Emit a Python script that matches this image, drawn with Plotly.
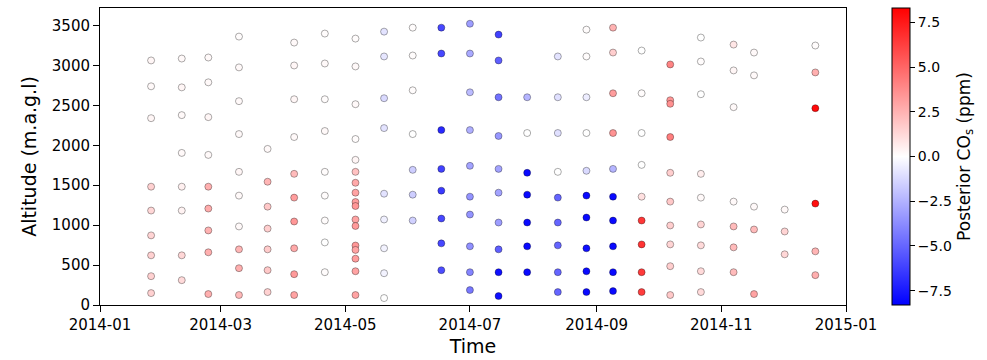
import datetime as dt
import plotly.graph_objects as go

# Sounding dates and, per flight, the sampled altitudes (m a.g.l.) and posterior CO_s (ppm)
flight_dates = [
    "2014-01-26", "2014-02-10", "2014-02-23", "2014-03-10", "2014-03-24", "2014-04-06",
    "2014-04-21", "2014-05-06", "2014-05-20", "2014-06-03", "2014-06-17", "2014-07-01",
    "2014-07-15", "2014-07-29", "2014-08-13", "2014-08-27", "2014-09-09", "2014-09-23",
    "2014-10-07", "2014-10-22", "2014-11-07", "2014-11-17", "2014-12-02", "2014-12-17",
]

altitudes = [
    [3063, 2739, 2340, 1482, 1183, 872, 622, 361, 149],
    [3087, 2726, 2378, 1905, 1482, 1183, 622, 311],
    [3100, 2789, 2353, 1880, 1482, 1208, 934, 660, 137],
    [3362, 2976, 2553, 2141, 1668, 1370, 984, 697, 461, 125],
    [1955, 1544, 1232, 957, 697, 436, 162],
    [3287, 3000, 2577, 2104, 1643, 1345, 1046, 710, 386, 125],
    [3400, 3025, 2577, 2179, 1668, 1370, 1058, 784, 411],
    [3337, 2988, 2515, 2079, 1818, 1668, 1531, 1407, 1290, 1240, 1071, 990, 745, 690, 580, 423, 125],
    [3424, 3113, 2590, 2216, 1394, 1071, 710, 398, 87],
    [3474, 3125, 2689, 2141, 1693, 1382, 1058],
    [3474, 3150, 2191, 1705, 1432, 1083, 772, 436],
    [3523, 3150, 2664, 2191, 1743, 1357, 1133, 735, 411, 187],
    [3387, 3063, 2602, 2117, 1705, 1407, 1033, 697, 411, 112],
    [2602, 2154, 1656, 1382, 1033, 735, 411],
    [3113, 2602, 2154, 1668, 1345, 1033, 747, 411, 162],
    [3449, 3113, 2602, 2154, 1681, 1370, 1096, 710, 423, 162],
    [3474, 3162, 2652, 2154, 1705, 1357, 1058, 735, 411, 174],
    [3187, 2652, 2154, 1755, 1357, 1058, 759, 411, 162],
    [3013, 2565, 2520, 2104, 1656, 1295, 996, 759, 486, 125],
    [3350, 3050, 2640, 1643, 1345, 1009, 747, 423, 162],
    [3262, 2938, 2478, 1295, 984, 722, 411],
    [3162, 2876, 1232, 946, 137],
    [1195, 921, 635],
    [3250, 2913, 2465, 1270, 672, 374],
]

co_values = [
    [0.3, 0.2, 0.3, 1.5, 1.3, 1.4, 1.5, 1.5, 1.5],
    [0.2, 0.3, 0.2, 0.2, 0.5, 0.4, 1.3, 1.2],
    [0.2, 0.2, 0.3, 0.2, 2.6, 2.7, 2.5, 2.6, 2.6],
    [0.1, 0.2, 0.2, 0.2, 0.3, 0.2, 0.2, 2.4, 2.6, 2.3],
    [0.2, 2.4, 1.8, 1.6, 1.7, 1.8, 1.5],
    [0.2, 0.3, 0.3, 0.2, 2.2, 3.2, 3.4, 2.8, 3.3, 3.0],
    [0.1, 0.2, 0.1, 0.2, 0.1, 0.1, 0.1, 0.0, 0.1],
    [0.1, 0.2, 0.2, 0.1, 0.3, 2.0, 2.8, 3.0, 3.2, 3.4, 3.0, 3.3, 3.4, 3.0, 3.2, 3.0, 3.0],
    [-0.9, -0.8, -1.2, -0.9, -0.9, -0.5, -0.4, -0.4, 0.0],
    [0.1, 0.1, 0.1, 0.0, -1.6, -1.6, -1.5],
    [-6.0, -6.0, -7.0, -6.2, -6.4, -6.0, -6.0, -5.8],
    [-3.2, -2.8, -2.2, -2.6, -3.0, -3.5, -3.5, -3.6, -4.0, -4.4],
    [-6.2, -5.2, -4.6, -3.4, -3.0, -3.0, -3.2, -5.2, -7.8, -7.8],
    [-2.4, 0.0, -8.0, -8.0, -8.0, -8.0, -8.0],
    [-0.9, -1.0, -1.0, 0.0, -5.0, -5.0, -5.0, -5.0, -5.0],
    [0.1, 0.1, -0.6, 0.0, -1.2, -8.0, -8.0, -7.8, -8.0, -8.0],
    [2.5, 1.6, 3.2, 3.5, -2.4, -8.0, -8.0, -8.0, -8.0, -8.0],
    [0.0, 0.1, 0.0, 0.0, 1.0, 6.5, 6.6, 6.4, 6.3],
    [4.0, 3.4, 3.6, 4.2, 1.6, 1.8, 1.6, 1.4, 1.6, 1.8],
    [0.0, 0.1, 0.0, 0.6, 0.2, 1.4, 1.2, 1.2, 1.2],
    [0.8, 0.3, 0.2, 0.2, 2.2, 2.2, 2.2],
    [0.2, 0.2, 0.2, 2.2, 3.0],
    [0.2, 1.4, 1.3],
    [0.1, 2.6, 8.0, 7.8, 2.4, 2.6],
]

x_tick_dates = ["2014-01-01", "2014-03-01", "2014-05-01", "2014-07-01",
                "2014-09-01", "2014-11-01", "2015-01-01"]
y_ticks = [0, 500, 1000, 1500, 2000, 2500, 3000, 3500]
cbar_ticks = [-7.5, -5.0, -2.5, 0.0, 2.5, 5.0, 7.5]

# Flatten flights into one point cloud
xs, ys, cs = [], [], []
for d, alts, vals in zip(flight_dates, altitudes, co_values):
    for a, v in zip(alts, vals):
        xs.append(d)
        ys.append(a)
        cs.append(v)

bwr = [[0.0, "rgb(0,0,255)"], [0.5, "rgb(255,255,255)"], [1.0, "rgb(255,0,0)"]]
FONT = "DejaVu Sans"

fig = go.Figure(
    go.Scatter(
        x=xs, y=ys, mode="markers",
        marker=dict(
            size=7, color=cs, colorscale=bwr, cmin=-8.3, cmax=8.3,
            line=dict(color="rgba(0,0,0,0.65)", width=0.5),
            colorbar=dict(
                thickness=18, len=1.0, lenmode="fraction", y=0.5, yanchor="middle",
                x=1.0617, xanchor="left", xpad=0, ypad=0,
                outlinewidth=1, outlinecolor="black",
                tickvals=cbar_ticks, tickformat=".1f",
                ticks="outside", ticklen=5, tickcolor="black",
                tickfont=dict(family=FONT, size=14, color="black"),
                title=dict(text="Posterior CO<sub>s</sub> (ppm)", side="right",
                           font=dict(family=FONT, size=17, color="black")),
            ),
        ),
        showlegend=False,
    )
)

fig.update_xaxes(
    type="date", range=["2014-01-01", "2015-01-01"],
    tickvals=x_tick_dates, tickformat="%Y-%m",
    showline=True, linecolor="black", linewidth=1, mirror=True,
    ticks="outside", ticklen=6, tickcolor="black", showgrid=False, zeroline=False,
    tickfont=dict(family=FONT, size=15, color="black"),
    title=dict(text="Time", standoff=6, font=dict(family=FONT, size=19, color="black")),
)
fig.update_yaxes(
    range=[0, 3720], tickvals=y_ticks,
    showline=True, linecolor="black", linewidth=1, mirror=True,
    ticks="outside", ticklen=6, tickcolor="black", showgrid=False, zeroline=False,
    tickfont=dict(family=FONT, size=15, color="black"),
    title=dict(text="Altitude (m.a.g.l)", standoff=10,
               font=dict(family=FONT, size=19, color="black")),
)

fig.update_layout(
    width=987, height=360,
    margin=dict(l=100, r=141, t=7, b=54),
    paper_bgcolor="white", plot_bgcolor="white",
)

fig.write_html("out.html")
